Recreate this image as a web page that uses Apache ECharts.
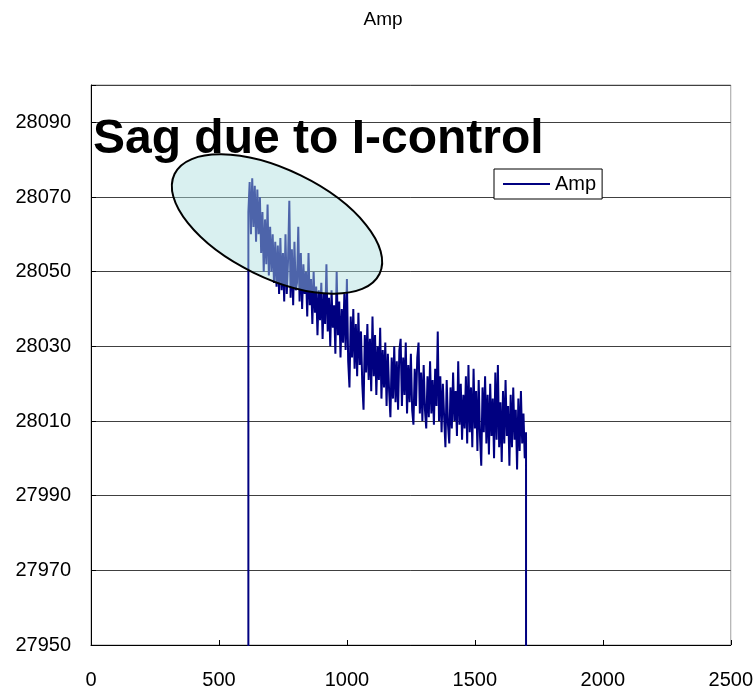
<!DOCTYPE html>
<html>
<head>
<meta charset="utf-8">
<script src="https://cdn.jsdelivr.net/npm/echarts@6/dist/echarts.min.js"></script>
<style>
html,body{margin:0;padding:0;background:#fff;}
#chart{width:756px;height:693px;}
</style>
</head>
<body>
<div id="chart"></div>
<script>
// ---- data ----
const seriesName = 'Amp';
const sampleStart = 610;   // x of first sample
const sampleStep = 5;      // x spacing of samples
const ampValues = [
  0,
  // 615 - 665
  28066, 28074, 28060, 28075, 28062, 28073, 28058, 28072, 28060, 28070, 28055,
  // 670 - 720
  28066, 28050, 28064, 28052, 28068, 28049, 28062, 28050, 28060, 28047, 28058,
  // 725 - 800
  28046, 28057, 28044, 28059, 28045, 28055, 28042, 28060, 28044, 28053, 28069, 28043, 28056, 28041, 28058, 28045,
  // 805 - 1000
  28047, 28062, 28042, 28055, 28040, 28052, 28044, 28050, 28038, 28055,
  28041, 28048, 28036, 28050, 28039, 28046, 28033, 28045, 28037, 28047,
  28032, 28044, 28036, 28052, 28034, 28043, 28030, 28045, 28035, 28041,
  28028, 28050, 28033, 28042, 28027, 28040, 28031, 28044, 28029, 28048,
  // 1005 - 1100
  28026, 28019, 28038, 28027, 28040, 28024, 28036, 28022, 28039, 28025,
  28034, 28020, 28013, 28033, 28023, 28036, 28021, 28032, 28018, 28038,
  // 1105 - 1200
  28022, 28033, 28017, 28030, 28021, 28035, 28016, 28029, 28019, 28031,
  28014, 28028, 28018, 28011, 28027, 28016, 28030, 28015, 28026, 28013,
  // 1205 - 1300
  28029, 28032, 28014, 28027, 28017, 28031, 28012, 28025, 28015, 28028,
  28013, 28009, 28024, 28014, 28027, 28031, 28012, 28023, 28010, 28025,
  // 1305 - 1400
  28013, 28008, 28022, 28011, 28026, 28012, 28021, 28009, 28024, 28014,
  28034, 28010, 28022, 28007, 28020, 28011, 28003, 28021, 28009, 28004,
  // 1405 - 1500
  28019, 28008, 28023, 28010, 28018, 28006, 28026, 28009, 28020, 28005,
  28017, 28008, 28022, 28004, 28025, 28007, 28019, 28003, 28024, 28008,
  // 1505 - 1600
  28018, 28002, 28021, 28006, 27998, 28019, 28007, 28022, 28004, 28017,
  28001, 28020, 28006, 28016, 28000, 28023, 28005, 28025, 28003, 28015,
  // 1605 - 1700
  27999, 28018, 28004, 28021, 28006, 28014, 27998, 28017, 28003, 28019,
  28005, 28013, 27997, 28016, 28002, 28018, 28004, 28012, 28000, 28007,
  // 1705
  0
];
const xTickLabels = ['0', '500', '1000', '1500', '2000', '2500'];
const yTickLabels = ['27950', '27970', '27990', '28010', '28030', '28050', '28070', '28090'];
const chartTitle = 'Amp';
const annotationText = 'Sag due to I-control';

// ---- chart ----
const FONT = '"Liberation Sans", Arial, sans-serif';
const seriesData = ampValues.map((v, i) => [sampleStart + i * sampleStep, v]);

const chart = echarts.init(document.getElementById('chart'), null, {renderer: 'canvas'});
chart.setOption({
  animation: false,
  backgroundColor: '#fff',
  grid: {
    left: 91, right: 23, top: 85, bottom: 48,
    show: true, borderColor: '#a0a0a0', borderWidth: 1, backgroundColor: 'transparent'
  },
  legend: {
    data: [seriesName],
    left: 494, top: 169,
    padding: [5, 6, 5, 9],
    backgroundColor: '#fff',
    borderColor: '#000', borderWidth: 1, borderRadius: 0,
    icon: 'rect',
    itemWidth: 47, itemHeight: 2,
    textStyle: {fontFamily: FONT, fontSize: 20, color: '#000'}
  },
  xAxis: {
    type: 'value', min: 0, max: 2500, interval: 500,
    axisLine: {show: true, lineStyle: {color: '#000', width: 1}},
    axisTick: {show: true, inside: true, length: 5, lineStyle: {color: '#000'}},
    axisLabel: {
      margin: 25, fontFamily: FONT, fontSize: 20, color: '#000',
      formatter: (v) => xTickLabels[Math.round(v / 500)] ?? ''
    },
    splitLine: {show: false}
  },
  yAxis: [
    {type: 'value', min: 27950, max: 28100, show: false},
    {
      type: 'value', min: 0, max: 150, interval: 20, position: 'left',
      axisLine: {show: true, onZero: false, lineStyle: {color: '#000', width: 1}},
      axisTick: {show: true, inside: true, length: 5, lineStyle: {color: '#000'}},
      axisLabel: {
        margin: 20, fontFamily: FONT, fontSize: 20, color: '#000', padding: [5, 0, 0, 0],
        formatter: (v) => (v % 20 === 0 ? (yTickLabels[v / 20] ?? '') : '')
      },
      splitLine: {show: true, lineStyle: {color: '#404040', width: 1}}
    }
  ],
  series: [{
    name: seriesName,
    type: 'line',
    yAxisIndex: 0,
    data: seriesData,
    showSymbol: false,
    symbol: 'none',
    clip: true,
    lineStyle: {color: '#000080', width: 2},
    itemStyle: {color: '#000080'},
    z: 3
  }],
  graphic: [
    {
      type: 'text', x: 383, y: 10, z: 100,
      style: {text: chartTitle, fontFamily: FONT, fontSize: 19, fill: '#000', textAlign: 'center', textVerticalAlign: 'top'}
    },
    {
      type: 'ellipse', x: 277, y: 224, rotation: -26 * Math.PI / 180, z: 100,
      shape: {cx: 0, cy: 0, rx: 114, ry: 54},
      style: {fill: 'rgba(170,222,222,0.45)', stroke: '#000', lineWidth: 2}
    },
    {
      type: 'text', x: 93, y: 116, z: 101,
      style: {text: annotationText, fontFamily: FONT, fontWeight: 'bold', fontSize: 48, fill: '#000', textAlign: 'left', textVerticalAlign: 'top'}
    }
  ]
});
</script>
</body>
</html>
